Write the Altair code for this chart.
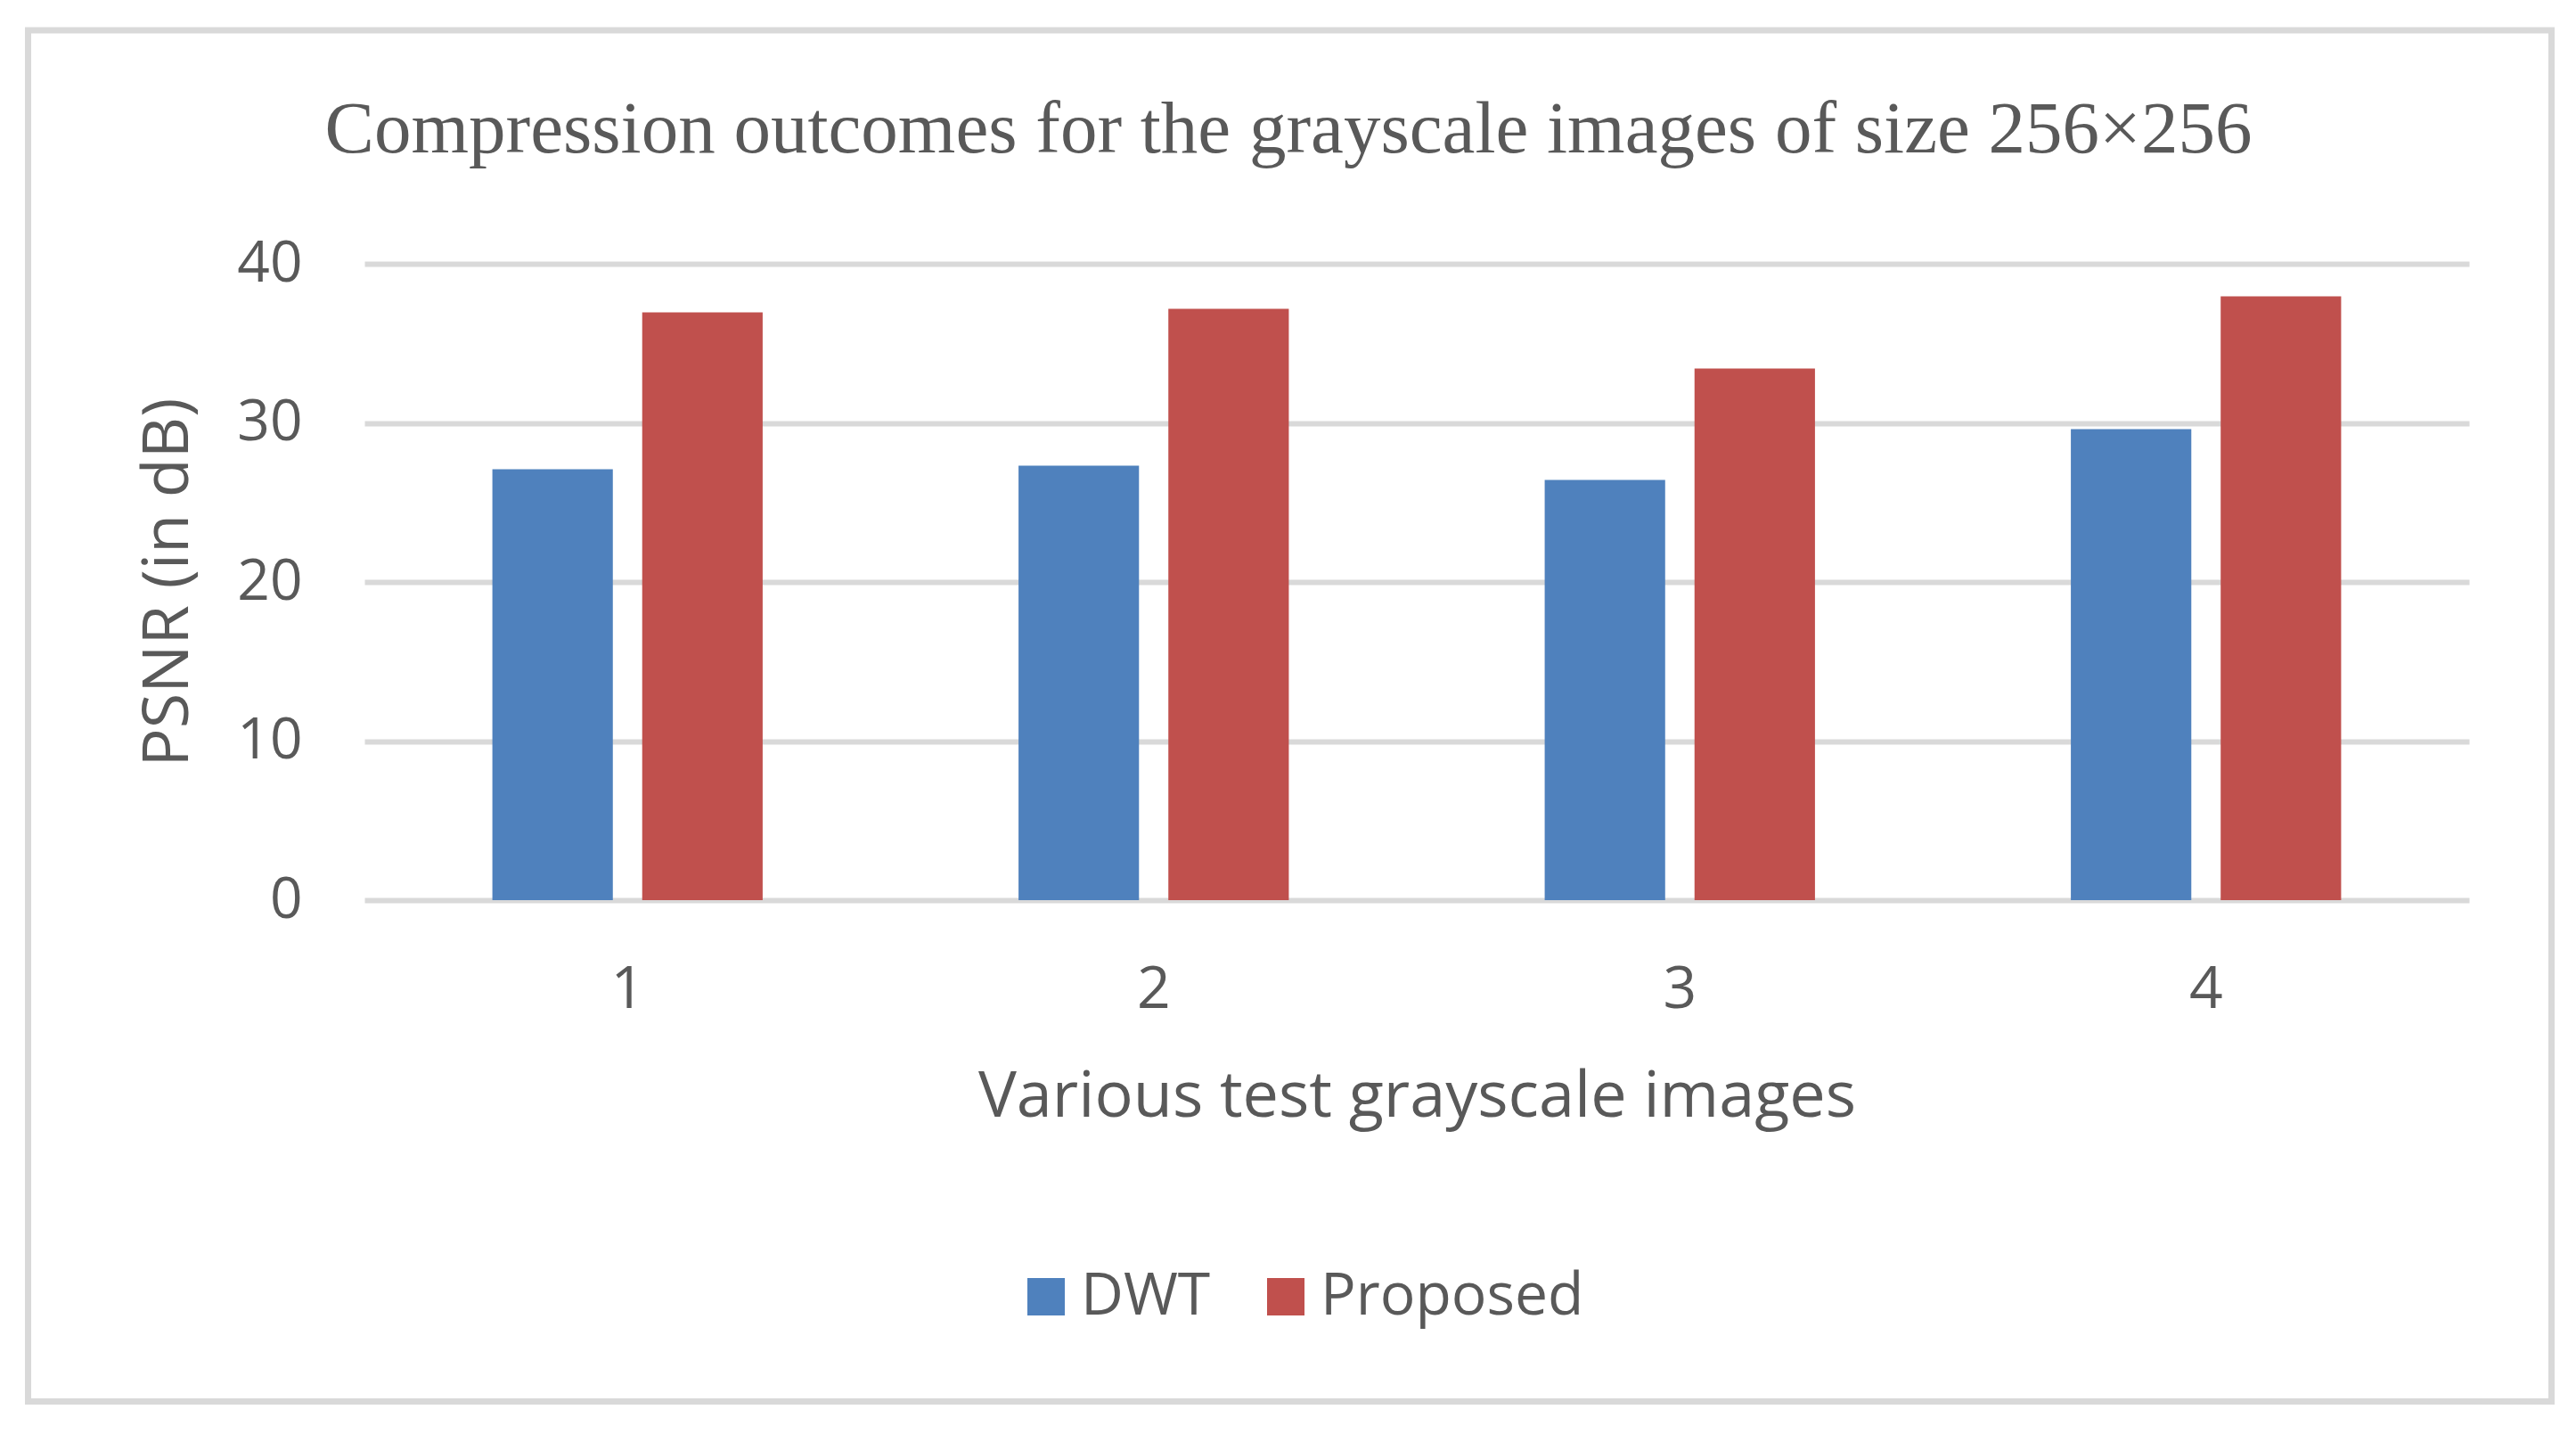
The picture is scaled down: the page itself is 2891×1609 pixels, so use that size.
import altair as alt
import pandas as pd

images = ["1", "2", "3", "4"]
methods = ["DWT", "Proposed"]
dwt = [27.09, 27.31, 26.41, 29.61]
proposed = [36.95, 37.17, 33.42, 37.95]
colors = ["#4F81BD", "#C0504D"]

rows = []
for i, img in enumerate(images):
    rows.append({"image": img, "method": "DWT", "value": dwt[i]})
    rows.append({"image": img, "method": "Proposed", "value": proposed[i]})
df = pd.DataFrame(rows)

TXT = "#595959"
FONT = "Open Sans"

# plot area placement (page coords): left 409, top 296
W, H = 2362, 714
PL, PT = 401, 288

bars = alt.Chart(df).mark_bar().encode(
    x=alt.X("image:N", sort=images,
            scale=alt.Scale(paddingInner=0, paddingOuter=0),
            axis=alt.Axis(title="Various test grayscale images", labelAngle=0,
                          labelFont=FONT, labelFontSize=66, labelColor=TXT,
                          labelPadding=68, ticks=False, domain=False, grid=False,
                          titleFont=FONT, titleFontSize=72, titleFontWeight="normal",
                          titleColor=TXT, titlePadding=52)),
    xOffset=alt.XOffset("method:N", sort=methods,
                        scale=alt.Scale(paddingInner=0.196, paddingOuter=0.854)),
    y=alt.Y("value:Q", scale=alt.Scale(domain=[0, 40], nice=False),
            axis=alt.Axis(title="PSNR (in dB)", values=[0, 10, 20, 30, 40],
                          labelFont=FONT, labelFontSize=64, labelColor=TXT,
                          labelPadding=70, ticks=False, domain=False,
                          gridColor="#D9D9D9", gridWidth=6,
                          titleFont=FONT, titleFontSize=72, titleFontWeight="normal",
                          titleColor=TXT, titlePadding=40)),
    color=alt.Color("method:N", sort=methods,
                    scale=alt.Scale(domain=methods, range=colors),
                    legend=alt.Legend(orient="none", legendX=732, legendY=1126,
                                      direction="horizontal", title=None,
                                      symbolType="square", symbolSize=1764,
                                      symbolStrokeWidth=0, labelFont=FONT,
                                      labelFontSize=66, labelColor=TXT,
                                      labelLimit=1000,
                                      columnPadding=51, labelOffset=6)),
)

frame_df = pd.DataFrame({"k": [0]})
frame = alt.Chart(frame_df).mark_rect(fill=None, stroke="#D9D9D9", strokeWidth=7).encode(
    x=alt.value(31.5 - 8 - PL),
    x2=alt.value(2863.5 - 8 - PL),
    y=alt.value(34 - 8 - PT),
    y2=alt.value(1572.5 - 8 - PT),
)

chart = alt.layer(frame, bars).properties(
    width=W, height=H,
    padding={"left": PL, "top": PT, "right": 2875 - PL - W, "bottom": 1593 - PT - H},
    autosize=alt.AutoSizeParams(type="none"),
    title=alt.Title("Compression outcomes for the grayscale images of size 256×256",
                    font="Liberation Serif", fontSize=83, fontWeight="normal",
                    color=TXT, anchor="middle", dx=-144, baseline="alphabetic",
                    offset=-223),
).configure_view(stroke=None)

chart.save("out.html", embed_options={"renderer": "svg", "actions": False})
